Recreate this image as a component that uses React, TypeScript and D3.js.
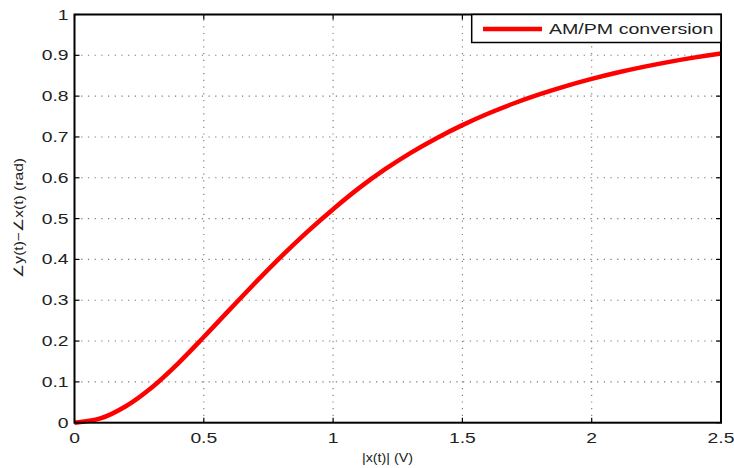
import React from "react";
import * as d3 from "d3";

const xValues = [0, 0.1, 0.2, 0.3, 0.4, 0.5, 0.6, 0.7, 0.8, 0.9, 1.0, 1.1, 1.2, 1.3, 1.4, 1.5, 1.6, 1.7, 1.8, 1.9, 2.0, 2.1, 2.2, 2.3, 2.4, 2.5];
const amPmValues = [0, 0.0105, 0.041, 0.087, 0.145, 0.21, 0.277, 0.3435, 0.4075, 0.4675, 0.523, 0.5746, 0.6204, 0.661, 0.697, 0.729, 0.7574, 0.7826, 0.8049, 0.8247, 0.8423, 0.8579, 0.8717, 0.884, 0.8949, 0.9046];
const xTicks = [0, 0.5, 1, 1.5, 2, 2.5];
const xTickLabels = ["0", "0.5", "1", "1.5", "2", "2.5"];
const yTicks = [0, 0.1, 0.2, 0.3, 0.4, 0.5, 0.6, 0.7, 0.8, 0.9, 1];
const yTickLabels = ["0", "0.1", "0.2", "0.3", "0.4", "0.5", "0.6", "0.7", "0.8", "0.9", "1"];
const seriesName = "AM/PM conversion";
const xLabel = "|x(t)| (V)";
const yLabel = "∠y(t)−∠x(t) (rad)";

const W = 734;
const H = 468;
const L = 74.5, R = 721, T = 14.5, B = 422.7;
const FONT = "'Liberation Sans', Arial, Helvetica, sans-serif";
const SX = 1.38;

export default function App() {
  const x = d3.scaleLinear().domain([0, 2.5]).range([L, R]);
  const y = d3.scaleLinear().domain([0, 1]).range([B, T]);
  const pts = xValues.map((v, i) => [v, amPmValues[i]] as [number, number]);
  const line = d3.line<[number, number]>().x(d => x(d[0])).y(d => y(d[1])).curve(d3.curveCatmullRom.alpha(0.5));
  const tl = 5;
  return (
    <svg width={W} height={H} style={{ position: "absolute", left: 0, top: 0, background: "#fff" }}>
      <rect x={0} y={0} width={W} height={H} fill="#fff" />
      {/* grid */}
      {xTicks.slice(1, -1).map(t => (
        <line key={"gx" + t} x1={x(t)} x2={x(t)} y1={B} y2={T} stroke="#777" strokeWidth={1.1} strokeDasharray="1.2,5.5" />
      ))}
      {yTicks.slice(1, -1).map(t => (
        <line key={"gy" + t} x1={L} x2={R} y1={y(t)} y2={y(t)} stroke="#777" strokeWidth={1.1} strokeDasharray="1.2,5.5" />
      ))}
      {/* ticks */}
      {xTicks.map(t => (
        <g key={"tx" + t}>
          <line x1={x(t)} x2={x(t)} y1={B} y2={B - tl} stroke="#000" strokeWidth={1.2} />
          <line x1={x(t)} x2={x(t)} y1={T} y2={T + tl} stroke="#000" strokeWidth={1.2} />
        </g>
      ))}
      {yTicks.map(t => (
        <g key={"ty" + t}>
          <line x1={L} x2={L + tl} y1={y(t)} y2={y(t)} stroke="#000" strokeWidth={1.2} />
          <line x1={R} x2={R - tl} y1={y(t)} y2={y(t)} stroke="#000" strokeWidth={1.2} />
        </g>
      ))}
      {/* curve */}
      <path d={line(pts) || ""} fill="none" stroke="#ff0000" strokeWidth={4.5} strokeLinecap="butt" strokeLinejoin="round" />
      {/* axes box */}
      <rect x={L} y={T} width={R - L} height={B - T} fill="none" stroke="#000" strokeWidth={2} />
      {/* tick labels */}
      {xTicks.map((t, i) => (
        <text key={"lx" + t} transform={`translate(${x(t)},${443}) scale(${SX},1)`} textAnchor="middle" fontFamily={FONT} fontSize={14} fill="#222">{xTickLabels[i]}</text>
      ))}
      {yTicks.map((t, i) => (
        <text key={"ly" + t} transform={`translate(${68.5},${y(t) + 5}) scale(${SX},1)`} textAnchor="end" fontFamily={FONT} fontSize={14} fill="#222">{yTickLabels[i]}</text>
      ))}
      {/* axis labels */}
      <text x={362} y={462} fontFamily={FONT} fontSize={13} fill="#222" textLength={51} lengthAdjust="spacingAndGlyphs">{xLabel}</text>
      <text transform={`translate(23,${278}) rotate(-90)`} fontFamily={FONT} fontSize={13} fill="#222" textLength={120} lengthAdjust="spacingAndGlyphs">{yLabel}</text>
      {/* legend */}
      <rect x={471.7} y={T} width={R - 471.7} height={28} fill="#fff" stroke="#000" strokeWidth={1.5} />
      <line x1={483} x2={542} y1={29} y2={29} stroke="#ff0000" strokeWidth={4.5} />
      <text transform={`translate(549,33.8) scale(1.4,1)`} fontFamily={FONT} fontSize={14} fill="#222">{seriesName}</text>
    </svg>
  );
}
